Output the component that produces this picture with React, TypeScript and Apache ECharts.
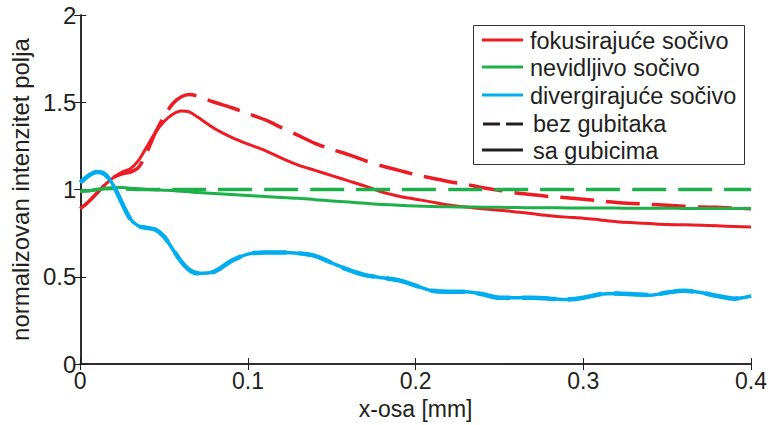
import React, { useEffect, useRef } from "react";
import * as echarts from "echarts";

const xs = [0, 0.005, 0.01, 0.015, 0.02, 0.025, 0.03, 0.035, 0.04, 0.045, 0.05, 0.055, 0.06, 0.065, 0.07, 0.08, 0.09, 0.1, 0.11, 0.12, 0.13, 0.14, 0.15, 0.16, 0.17, 0.18, 0.19, 0.2, 0.21, 0.22, 0.23, 0.24, 0.25, 0.26, 0.27, 0.28, 0.29, 0.3, 0.31, 0.32, 0.33, 0.34, 0.35, 0.36, 0.37, 0.38, 0.39, 0.4];

const focusLossy = [0.89, 0.93, 0.98, 1.03, 1.07, 1.1, 1.12, 1.17, 1.25, 1.33, 1.39, 1.43, 1.45, 1.445, 1.415, 1.35, 1.3, 1.26, 1.225, 1.18, 1.14, 1.11, 1.08, 1.05, 1.02, 0.985, 0.962, 0.945, 0.928, 0.912, 0.9, 0.89, 0.882, 0.872, 0.861, 0.85, 0.842, 0.836, 0.826, 0.816, 0.81, 0.805, 0.8, 0.798, 0.796, 0.792, 0.788, 0.785];
const focusLossless = [0.89, 0.93, 0.98, 1.03, 1.07, 1.09, 1.1, 1.13, 1.22, 1.33, 1.42, 1.49, 1.53, 1.545, 1.535, 1.5, 1.47, 1.435, 1.4, 1.355, 1.31, 1.265, 1.23, 1.2, 1.165, 1.135, 1.11, 1.085, 1.065, 1.045, 1.03, 1.01, 0.995, 0.98, 0.97, 0.96, 0.953, 0.945, 0.935, 0.926, 0.92, 0.915, 0.91, 0.905, 0.9, 0.898, 0.894, 0.89];
const invisLossy = [0.99, 0.993, 1.0, 1.007, 1.012, 1.012, 1.008, 1.004, 1.0, 0.998, 0.996, 0.994, 0.99, 0.987, 0.983, 0.977, 0.971, 0.966, 0.96, 0.955, 0.95, 0.942, 0.935, 0.928, 0.921, 0.915, 0.91, 0.906, 0.903, 0.901, 0.9, 0.899, 0.898, 0.897, 0.896, 0.896, 0.895, 0.895, 0.894, 0.894, 0.893, 0.893, 0.893, 0.892, 0.892, 0.892, 0.891, 0.891];
const invisLossless = [0.99, 0.993, 1.0, 1.004, 1.006, 1.004, 1.002, 1.0, 1.0, 1.0, 1.0, 1.0, 1.0, 1.0, 1.0, 1.0, 1.0, 1.0, 1.0, 1.0, 1.0, 1.0, 1.0, 1.0, 1.0, 1.0, 1.0, 1.0, 1.0, 1.0, 1.0, 1.0, 1.0, 1.0, 1.0, 1.0, 1.0, 1.0, 1.0, 1.0, 1.0, 1.0, 1.0, 1.0, 1.0, 1.0, 1.0, 1.0];
const divLossy = [1.04, 1.08, 1.1, 1.085, 1.02, 0.92, 0.83, 0.79, 0.78, 0.77, 0.73, 0.66, 0.59, 0.54, 0.52, 0.53, 0.59, 0.63, 0.64, 0.64, 0.635, 0.62, 0.58, 0.54, 0.51, 0.495, 0.48, 0.45, 0.42, 0.415, 0.415, 0.4, 0.38, 0.38, 0.38, 0.375, 0.37, 0.38, 0.4, 0.405, 0.4, 0.395, 0.41, 0.42, 0.41, 0.39, 0.375, 0.39];
const divLossless = [1.04, 1.08, 1.1, 1.085, 1.02, 0.92, 0.83, 0.79, 0.78, 0.77, 0.73, 0.66, 0.59, 0.54, 0.52, 0.53, 0.59, 0.63, 0.64, 0.64, 0.635, 0.62, 0.58, 0.54, 0.51, 0.495, 0.48, 0.45, 0.42, 0.415, 0.415, 0.4, 0.38, 0.38, 0.38, 0.375, 0.37, 0.38, 0.4, 0.405, 0.4, 0.395, 0.41, 0.42, 0.41, 0.39, 0.375, 0.39];

const legendLabels = ["fokusirajuće sočivo", "nevidljivo sočivo", "divergirajuće sočivo", "bez gubitaka", "sa gubicima"];
const xTitle = "x-osa [mm]";
const yTitle = "normalizovan intenzitet polja";

const RED = "#ED1C24";
const GREEN = "#1DB04B";
const BLUE = "#00AEEF";
const BLACK = "#231F20";
const FONT = "'Liberation Sans', Arial, Helvetica, sans-serif";

const pairs = (v: number[]) => xs.map((x, i) => [x, v[i]]);

export default function App() {
  const ref = useRef<HTMLDivElement>(null);
  useEffect(() => {
    if (!ref.current) return;
    const chart = echarts.init(ref.current, undefined, { renderer: "svg" });
    const dash = [34, 12];
    const mk = (name: string, data: number[], color: string, dashed: boolean, width: number) => ({
      name,
      type: "line",
      data: pairs(data),
      showSymbol: false,
      smooth: 0.3,
      lineStyle: { color, width, type: dashed ? dash : "solid", cap: "butt", join: "round" },
      z: 2,
    });
    const legendColors = [RED, GREEN, BLUE, BLACK, BLACK];
    const rowY = [40, 67, 95, 124, 150];
    const textY = [41, 68, 96, 124, 151];
    const legendEls: any[] = [
      { type: "rect", shape: { x: 473.5, y: 25.5, width: 271, height: 139 }, style: { fill: "#fff", stroke: "#333", lineWidth: 1 }, z: 100 },
    ];
    legendLabels.forEach((t, i) => {
      if (i === 3) {
        legendEls.push({ type: "line", shape: { x1: 483, y1: rowY[i], x2: 500, y2: rowY[i] }, style: { stroke: BLACK, lineWidth: 3 }, z: 101 });
        legendEls.push({ type: "line", shape: { x1: 506, y1: rowY[i], x2: 523, y2: rowY[i] }, style: { stroke: BLACK, lineWidth: 3 }, z: 101 });
      } else {
        legendEls.push({ type: "line", shape: { x1: 482, y1: rowY[i], x2: 523, y2: rowY[i] }, style: { stroke: legendColors[i], lineWidth: 3 }, z: 101 });
      }
      legendEls.push({
        type: "text",
        x: i >= 3 ? 533 : 530,
        y: textY[i],
        style: { text: t, fill: BLACK, font: `23.5px ${FONT}`, verticalAlign: "middle" },
        z: 101,
      });
    });
    const axisLine = { show: true, lineStyle: { color: BLACK, width: 1.5 } };
    chart.setOption({
      animation: false,
      grid: { left: 75, right: 19, top: 15, bottom: 56, containLabel: false },
      xAxis: [
        {
          type: "value", min: 0, max: 0.4, interval: 0.1,
          axisLine, axisTick: { show: true, inside: true, length: 6, lineStyle: { color: BLACK } },
          axisLabel: { color: BLACK, fontSize: 23, fontFamily: FONT, margin: 5 },
          splitLine: { show: false },
          name: xTitle, nameLocation: "middle", nameGap: 30,
          nameTextStyle: { color: BLACK, fontSize: 23, fontFamily: FONT },
        },
        {
          type: "value", position: "top", min: 0, max: 0.4, interval: 0.1,
          axisLine, axisTick: { show: true, inside: true, length: 6, lineStyle: { color: BLACK } },
          axisLabel: { show: false }, splitLine: { show: false },
        },
      ],
      yAxis: [
        {
          type: "value", min: 0, max: 2, interval: 0.5,
          axisLine, axisTick: { show: true, inside: true, length: 6, lineStyle: { color: BLACK } },
          axisLabel: { color: BLACK, fontSize: 24, fontFamily: FONT, margin: 4 },
          splitLine: { show: false },
          name: yTitle, nameLocation: "middle", nameGap: 46, nameRotate: 90,
          nameTextStyle: { color: BLACK, fontSize: 24, fontFamily: FONT },
        },
        {
          type: "value", position: "right", min: 0, max: 2, interval: 0.5,
          axisLine, axisTick: { show: true, inside: true, length: 6, lineStyle: { color: BLACK } },
          axisLabel: { show: false }, splitLine: { show: false },
        },
      ],
      series: [
        mk("fokusirajuće bez gubitaka", focusLossless, RED, true, 3.5),
        mk("fokusirajuće sa gubicima", focusLossy, RED, false, 3),
        mk("nevidljivo bez gubitaka", invisLossless, GREEN, true, 3.5),
        mk("nevidljivo sa gubicima", invisLossy, GREEN, false, 3),
        mk("divergirajuće bez gubitaka", divLossless, BLUE, true, 4.5),
        mk("divergirajuće sa gubicima", divLossy, BLUE, false, 3.5),
      ],
      graphic: legendEls,
    });
    return () => chart.dispose();
  }, []);
  return <div ref={ref} style={{ width: 770, height: 425, position: "absolute", left: 0, top: 0 }} />;
}
